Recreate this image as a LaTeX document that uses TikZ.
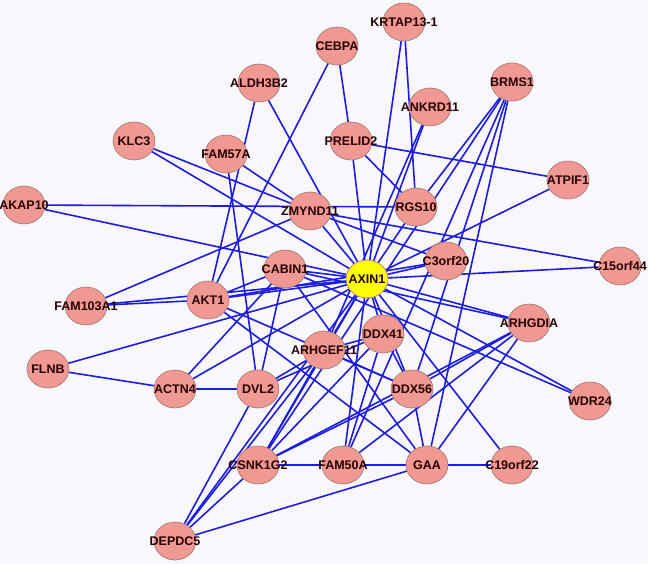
\documentclass[tikz,border=0pt]{standalone}
\usepackage{fontspec}
\setmainfont{Liberation Sans}
\usetikzlibrary{shapes,backgrounds}

\definecolor{genefill}{RGB}{240,152,146}
\definecolor{genedraw}{RGB}{160,115,112}
\definecolor{hubfill}{RGB}{255,255,0}
\definecolor{edgeblue}{RGB}{28,28,226}
\definecolor{paper}{RGB}{248,248,252}

\begin{document}
\begin{tikzpicture}[
    x=1pt,
    y=-1pt,
    gene node/.style={ellipse,fill=genefill,draw=genedraw,line width=0.6pt,minimum width=42pt,minimum height=38pt,inner sep=0pt,text=black!85!red,font=\bfseries\fontsize{12.5}{13}\selectfont},
    hub node/.style={gene node,fill=hubfill},
    link/.style={edgeblue,line width=1.6pt}
]
\useasboundingbox (0,0) rectangle (648,564);

% Hub
\node[hub node] (axin) at (367,279) {\makebox[0pt]{AXIN1}};

% Upper genes
\node[gene node] (krtap) at (404,22) {\makebox[0pt]{KRTAP13-1}};
\node[gene node] (cebpa) at (337,46) {\makebox[0pt]{CEBPA}};
\node[gene node] (aldh) at (259,83) {\makebox[0pt]{ALDH3B2}};
\node[gene node] (brms) at (512,82) {\makebox[0pt]{BRMS1}};
\node[gene node] (ankrd) at (430,107) {\makebox[0pt]{ANKRD11}};
\node[gene node] (klc) at (134,141) {\makebox[0pt]{KLC3}};
\node[gene node] (fam57) at (226,154) {\makebox[0pt]{FAM57A}};
\node[gene node] (prelid) at (351,141) {\makebox[0pt]{PRELID2}};
\node[gene node] (atpif) at (568,180) {\makebox[0pt]{ATPIF1}};
\node[gene node] (akap) at (24,205) {\makebox[0pt]{AKAP10}};
\node[gene node] (zmynd) at (310,211) {\makebox[0pt]{ZMYND11}};
\node[gene node] (rgs) at (416,207) {\makebox[0pt]{RGS10}};
\node[gene node] (c3orf) at (446,261) {\makebox[0pt]{C3orf20}};
\node[gene node] (c15orf) at (620,266) {\makebox[0pt]{C15orf44}};
\node[gene node] (cabin) at (285,269) {\makebox[0pt]{CABIN1}};

% Middle genes
\node[gene node] (akt) at (208,300) {\makebox[0pt]{AKT1}};
\node[gene node] (fam103) at (86,306) {\makebox[0pt]{FAM103A1}};
\node[gene node] (arhgdia) at (529,323) {\makebox[0pt]{ARHGDIA}};
\node[gene node] (ddx41) at (383,334) {\makebox[0pt]{DDX41}};
\node[gene node] (arhgef) at (324,350) {\makebox[0pt]{ARHGEF11}};
\node[gene node] (flnb) at (48,369) {\makebox[0pt]{FLNB}};
\node[gene node] (actn) at (175,389) {\makebox[0pt]{ACTN4}};
\node[gene node] (dvl) at (258,389) {\makebox[0pt]{DVL2}};
\node[gene node] (ddx56) at (412,389) {\makebox[0pt]{DDX56}};
\node[gene node] (wdr) at (590,401) {\makebox[0pt]{WDR24}};

% Lower genes
\node[gene node] (csnk) at (258,465) {\makebox[0pt]{CSNK1G2}};
\node[gene node] (fam50) at (343,465) {\makebox[0pt]{FAM50A}};
\node[gene node] (gaa) at (427,465) {\makebox[0pt]{GAA}};
\node[gene node] (c19orf) at (512,465) {\makebox[0pt]{C19orf22}};
\node[gene node] (depdc) at (175,541) {\makebox[0pt]{DEPDC5}};

\begin{scope}[on background layer]
\fill[paper] (0,0) rectangle (648,564);

% Spokes of the hub
\draw[link] (axin) -- (krtap);
\draw[link] (axin) -- (prelid);
\draw[link] (axin) -- (aldh);
\draw[link] (axin) -- (klc);
\draw[link] (axin) -- (akap);
\draw[link] (axin) -- (ankrd);
\draw[link] (axin) -- (atpif);
\draw[link] (axin) -- (zmynd);
\draw[link] (axin) -- (rgs);
\draw[link] (axin) -- (c3orf);
\draw[link] (axin) -- (c15orf);
\draw[link] (axin) -- (cabin);
\draw[link] (axin) -- (akt);
\draw[link] (axin) -- (fam103);
\draw[link] (axin) -- (flnb);
\draw[link] (axin) -- (actn);
\draw[link] (axin) -- (wdr);
\draw[link] (axin) -- (arhgdia);
\draw[link] (axin) -- (ddx41);
\draw[link] (axin) -- (ddx56);
\draw[link] (axin) -- (fam50);
\draw[link] (axin) -- (c19orf);
\draw[link] (axin) -- (csnk);
\draw[link] (axin) -- (depdc);
\draw[link] (axin) -- (arhgef);

% Upper links
\draw[link] (krtap) -- (rgs);
\draw[link] (cebpa) -- (prelid);
\draw[link] (cebpa) -- (akt);
\draw[link] (aldh) -- (akt);
\draw[link] (fam57) -- (dvl);
\draw[link] (fam57) -- (zmynd);
\draw[link] (klc) -- (zmynd);
\draw[link] (akap) -- (rgs);
\draw[link] (prelid) -- (rgs);
\draw[link] (prelid) -- (atpif);
\draw[link] (ankrd) -- (arhgef);
\draw[link] (brms) -- (rgs);
\draw[link] (brms) -- (fam50);
\draw[link] (brms) -- (ddx56);
\draw[link] (brms) -- (gaa);
\draw[link] (brms) -- (csnk);
\draw[link] (zmynd) -- (c15orf);
\draw[link] (zmynd) -- (c3orf);
\draw[link] (zmynd) -- (fam103);
\draw[link] (c3orf) -- (akt);

% Middle links
\draw[link] (fam103) -- (akt);
\draw[link] (akt) -- (cabin);
\draw[link] (akt) -- (ddx56);
\draw[link] (akt) -- (gaa);
\draw[link] (flnb) -- (actn);
\draw[link] (actn) -- (dvl);
\draw[link] (actn) -- (cabin);
\draw[link] (dvl) -- (cabin);
\draw[link] (dvl) -- (arhgef);
\draw[link] (dvl) -- (ddx41);
\draw[link] (cabin) -- (gaa);
\draw[link] (wdr) -- (cabin);
\draw[link] (arhgdia) -- (cabin);
\draw[link] (arhgdia) -- (fam50);
\draw[link] (arhgdia) -- (ddx56);
\draw[link] (arhgdia) -- (gaa);
\draw[link] (arhgdia) -- (csnk);
\draw[link] (ddx41) -- (ddx56);
\draw[link] (ddx41) -- (arhgef);
\draw[link] (ddx41) -- (csnk);
\draw[link] (ddx41) -- (fam50);
\draw[link] (ddx56) -- (gaa);
\draw[link] (ddx56) -- (csnk);
\draw[link] (ddx56) -- (arhgef);

% Lower links
\draw[link] (dvl) -- (depdc);
\draw[link] (fam50) -- (csnk);
\draw[link] (fam50) -- (gaa);
\draw[link] (gaa) -- (c19orf);
\draw[link] (gaa) -- (depdc);
\draw[link] (csnk) -- (depdc);
\draw[link] (csnk) -- (arhgef);
\draw[link] (depdc) -- (arhgef);
\end{scope}

\end{tikzpicture}
\end{document}
